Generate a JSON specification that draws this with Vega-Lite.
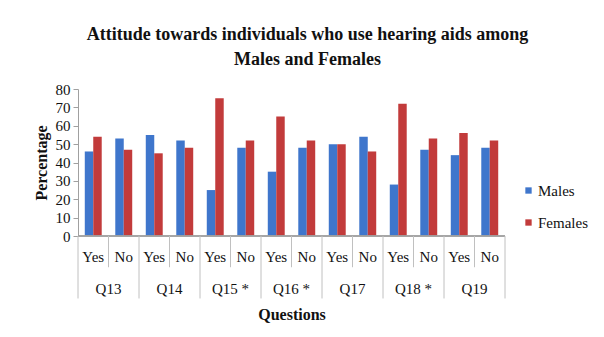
{
  "$schema": "https://vega.github.io/schema/vega-lite/v6.json",
  "padding": {"left": 33, "top": 26, "right": 5, "bottom": 5},
  "background": "white",
  "title": {
    "text": ["Attitude towards individuals who use hearing aids among", "Males and Females"],
    "font": "Liberation Serif",
    "fontSize": 18,
    "fontWeight": "bold",
    "lineHeight": 25,
    "color": "#111",
    "anchor": "middle",
    "offset": 13,
    "dx": -3
  },
  "data": {
    "values": [
      {"q": "Q13", "answer": "Yes", "gender": "Males", "value": 46},
      {"q": "Q13", "answer": "Yes", "gender": "Females", "value": 54},
      {"q": "Q13", "answer": "No", "gender": "Males", "value": 53},
      {"q": "Q13", "answer": "No", "gender": "Females", "value": 47},
      {"q": "Q14", "answer": "Yes", "gender": "Males", "value": 55},
      {"q": "Q14", "answer": "Yes", "gender": "Females", "value": 45},
      {"q": "Q14", "answer": "No", "gender": "Males", "value": 52},
      {"q": "Q14", "answer": "No", "gender": "Females", "value": 48},
      {"q": "Q15 *", "answer": "Yes", "gender": "Males", "value": 25},
      {"q": "Q15 *", "answer": "Yes", "gender": "Females", "value": 75},
      {"q": "Q15 *", "answer": "No", "gender": "Males", "value": 48},
      {"q": "Q15 *", "answer": "No", "gender": "Females", "value": 52},
      {"q": "Q16 *", "answer": "Yes", "gender": "Males", "value": 35},
      {"q": "Q16 *", "answer": "Yes", "gender": "Females", "value": 65},
      {"q": "Q16 *", "answer": "No", "gender": "Males", "value": 48},
      {"q": "Q16 *", "answer": "No", "gender": "Females", "value": 52},
      {"q": "Q17", "answer": "Yes", "gender": "Males", "value": 50},
      {"q": "Q17", "answer": "Yes", "gender": "Females", "value": 50},
      {"q": "Q17", "answer": "No", "gender": "Males", "value": 54},
      {"q": "Q17", "answer": "No", "gender": "Females", "value": 46},
      {"q": "Q18 *", "answer": "Yes", "gender": "Males", "value": 28},
      {"q": "Q18 *", "answer": "Yes", "gender": "Females", "value": 72},
      {"q": "Q18 *", "answer": "No", "gender": "Males", "value": 47},
      {"q": "Q18 *", "answer": "No", "gender": "Females", "value": 53},
      {"q": "Q19", "answer": "Yes", "gender": "Males", "value": 44},
      {"q": "Q19", "answer": "Yes", "gender": "Females", "value": 56},
      {"q": "Q19", "answer": "No", "gender": "Males", "value": 48},
      {"q": "Q19", "answer": "No", "gender": "Females", "value": 52}
    ]
  },
  "facet": {
    "column": {
      "field": "q",
      "type": "nominal",
      "sort": ["Q13", "Q14", "Q15 *", "Q16 *", "Q17", "Q18 *", "Q19"],
      "header": {
        "labels": false,
        "title": "Questions",
        "titleOrient": "bottom",
        "titleFont": "Liberation Serif",
        "titleFontSize": 16,
        "titleFontWeight": "bold",
        "titleColor": "#111",
        "titlePadding": 61
      }
    }
  },
  "spacing": 0,
  "bounds": "flush",
  "spec": {
    "width": 61,
    "height": 147,
    "layer": [
      {
        "mark": {"type": "bar"},
        "encoding": {
          "x": {
            "field": "answer",
            "type": "nominal",
            "sort": ["Yes", "No"],
            "title": null,
            "scale": {"paddingInner": 0, "paddingOuter": 0},
            "axis": null
          },
          "xOffset": {
            "field": "gender",
            "sort": ["Males", "Females"],
            "scale": {"paddingInner": 0, "paddingOuter": 0.8}
          },
          "y": {
            "field": "value",
            "type": "quantitative",
            "title": "Percentage",
            "scale": {"domain": [0, 80], "nice": false}
          },
          "color": {
            "field": "gender",
            "type": "nominal",
            "scale": {"domain": ["Males", "Females"], "range": ["#3F76CC", "#C23B3B"]},
            "legend": {
              "title": null,
              "orient": "none",
              "legendX": 443,
              "legendY": 94,
              "symbolType": "square",
              "symbolSize": 40,
              "symbolStrokeWidth": 0,
              "labelFont": "Liberation Serif",
              "labelFontSize": 15,
              "labelColor": "#111",
              "labelOffset": 2,
              "rowPadding": 16
            }
          }
        }
      },
      {
        "mark": {"type": "rule", "color": "#a0a0a0", "strokeWidth": 1},
        "encoding": {
          "y": {"datum": 0, "type": "quantitative", "title": "Percentage"}
        }
      },
      {
        "transform": [{"filter": "datum.gender == 'Males' && datum.answer == 'Yes'"}],
        "mark": {"type": "rule", "color": "#c0c0c0", "strokeWidth": 1},
        "encoding": {
          "x": {"field": "answer", "type": "nominal", "sort": ["Yes", "No"], "title": null, "axis": null, "bandPosition": 0},
          "y": {"datum": 0, "type": "quantitative", "title": "Percentage"},
          "y2": {"datum": -34}
        }
      },
      {
        "transform": [{"filter": "datum.gender == 'Males' && datum.answer == 'No'"}],
        "mark": {"type": "rule", "color": "#c0c0c0", "strokeWidth": 1},
        "encoding": {
          "x": {"field": "answer", "type": "nominal", "sort": ["Yes", "No"], "title": null, "axis": null, "bandPosition": 0},
          "y": {"datum": 0, "type": "quantitative", "title": "Percentage"},
          "y2": {"datum": -17}
        }
      },
      {
        "transform": [{"filter": "datum.gender == 'Males' && datum.answer == 'No' && datum.q == 'Q19'"}],
        "mark": {"type": "rule", "color": "#c0c0c0", "strokeWidth": 1},
        "encoding": {
          "x": {"field": "answer", "type": "nominal", "sort": ["Yes", "No"], "title": null, "axis": null, "bandPosition": 1},
          "y": {"datum": 0, "type": "quantitative", "title": "Percentage"},
          "y2": {"datum": -34}
        }
      },
      {
        "transform": [{"filter": "datum.gender == 'Males'"}],
        "mark": {"type": "text", "font": "Liberation Serif", "fontSize": 15, "color": "#111", "baseline": "middle", "align": "center"},
        "encoding": {
          "x": {"field": "answer", "type": "nominal", "sort": ["Yes", "No"], "title": null, "axis": null},
          "y": {"datum": -11.5, "type": "quantitative", "title": "Percentage"},
          "text": {"field": "answer"}
        }
      },
      {
        "transform": [{"filter": "datum.gender == 'Males' && datum.answer == 'Yes'"}],
        "mark": {"type": "text", "font": "Liberation Serif", "fontSize": 15, "color": "#111", "baseline": "middle", "align": "center"},
        "encoding": {
          "x": {"field": "answer", "type": "nominal", "sort": ["Yes", "No"], "title": null, "axis": null, "bandPosition": 1},
          "y": {"datum": -29, "type": "quantitative", "title": "Percentage"},
          "text": {"field": "q"}
        }
      }
    ]
  },
  "config": {
    "view": {"stroke": null},
    "font": "Liberation Serif",
    "axisY": {
      "tickCount": 8,
      "labelOverlap": false,
      "grid": false,
      "domainColor": "#a0a0a0",
      "tickColor": "#a0a0a0",
      "tickSize": 5,
      "labelFont": "Liberation Serif",
      "labelFontSize": 15,
      "labelColor": "#111",
      "labelPadding": 3,
      "titleFont": "Liberation Serif",
      "titleFontSize": 16,
      "titleFontWeight": "bold",
      "titleColor": "#111",
      "titlePadding": 6
    }
  }
}
